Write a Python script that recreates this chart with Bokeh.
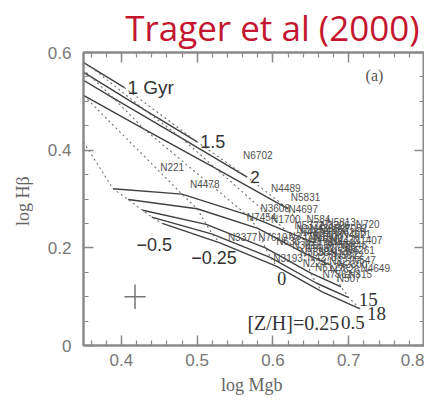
from bokeh.plotting import figure
from bokeh.models import (LinearAxis, FixedTicker, Label, Range1d,
                          CustomJSTickFormatter, ColumnDataSource)
from bokeh.core.properties import value
from bokeh.embed import file_html
from bokeh.resources import INLINE

# --- Worthey-type model grid: rows = age (Gyr), columns = [Z/H] ---
ages = [1, 1.5, 2, 3, 5, 8, 12, 15, 18]
metallicities = [-0.5, -0.25, 0.0, 0.25, 0.5]
model_mgb = [
    [0.240, 0.280, 0.320, 0.360, 0.404],
    [0.250, 0.300, 0.360, 0.430, 0.500],
    [0.260, 0.310, 0.390, 0.480, 0.566],
    [0.290, 0.350, 0.430, 0.525, 0.620],
    [0.389, 0.480, 0.565, 0.620, 0.655],
    [0.409, 0.500, 0.580, 0.640, 0.675],
    [0.428, 0.512, 0.590, 0.650, 0.690],
    [0.440, 0.520, 0.597, 0.657, 0.700],
    [0.454, 0.530, 0.605, 0.665, 0.715],
]
model_hb = [
    [0.684, 0.646, 0.608, 0.570, 0.528],
    [0.654, 0.606, 0.550, 0.483, 0.417],
    [0.626, 0.580, 0.506, 0.424, 0.345],
    [0.564, 0.512, 0.443, 0.362, 0.280],
    [0.321, 0.310, 0.268, 0.232, 0.210],
    [0.299, 0.280, 0.240, 0.190, 0.165],
    [0.277, 0.248, 0.200, 0.148, 0.120],
    [0.263, 0.228, 0.180, 0.128, 0.098],
    [0.250, 0.210, 0.162, 0.110, 0.075],
]

# --- galaxy sample ---
galaxy_names = [
    "N6702", "N221", "N4478", "N4489", "N5831", "N3608", "N4697", "N1700",
    "N584", "N5813", "N720", "N7052", "N4552", "N4374", "N3379", "N1600",
    "N4472", "N5846", "N4261", "N2778", "N3818", "N636", "N7785", "N1453",
    "N5638", "N5812", "N4278", "N547", "N821", "N3377", "N7619", "N2300",
    "N6127", "N7626", "N4649", "N224", "N315", "N507", "N7562", "N1407",
    "N4621", "N5322", "N4365", "N3193", "N7454", "N4406", "N4486", "N5982",
    "N7626B", "N3226", "N4636", "N1052", "N3115",
]
galaxy_mgb = [
    0.580, 0.467, 0.510, 0.617, 0.643, 0.603, 0.640, 0.617,
    0.660, 0.690, 0.725, 0.705, 0.680, 0.655, 0.640, 0.673,
    0.695, 0.705, 0.715, 0.660, 0.645, 0.620, 0.690, 0.680,
    0.655, 0.700, 0.665, 0.720, 0.690, 0.560, 0.600, 0.705,
    0.675, 0.695, 0.735, 0.655, 0.715, 0.700, 0.685, 0.725,
    0.710, 0.648, 0.668, 0.620, 0.585, 0.672, 0.688, 0.662,
    0.700, 0.682, 0.668, 0.695, 0.650,
]
galaxy_hb = [
    0.390, 0.364, 0.330, 0.322, 0.303, 0.281, 0.278, 0.258,
    0.258, 0.252, 0.248, 0.240, 0.235, 0.232, 0.223, 0.222,
    0.215, 0.205, 0.195, 0.210, 0.205, 0.212, 0.200, 0.192,
    0.190, 0.185, 0.180, 0.175, 0.172, 0.222, 0.222, 0.165,
    0.160, 0.155, 0.158, 0.168, 0.145, 0.138, 0.145, 0.215,
    0.228, 0.245, 0.240, 0.178, 0.262, 0.226, 0.208, 0.198,
    0.232, 0.246, 0.218, 0.188, 0.238,
]

# typical error bar
err_mgb, err_hb = 0.418, 0.100
err_dx, err_dy = 0.014, 0.025

x_major = [0.4, 0.5, 0.6, 0.7, 0.8]
y_major = [0.0, 0.2, 0.4, 0.6]

INK = "#404040"
AXIS = "#8a8a8a"
LABEL_INK = "#333333"

p = figure(width=424, height=401, x_range=Range1d(0.35, 0.8), y_range=Range1d(0, 0.6),
           output_backend="svg", toolbar_location=None,
           min_border_left=83, min_border_right=0, min_border_top=50, min_border_bottom=56)
p.grid.visible = False
p.background_fill_color = "white"
p.border_fill_color = "white"
p.outline_line_color = AXIS
p.outline_line_width = 2

p.title.text = "Trager et al (2000)"
p.title.align = "right"
p.title.text_font = "Open Sans"
p.title.text_font_size = "35px"
p.title.text_font_style = "normal"
p.title.text_color = "#c4162e"
p.title.standoff = 3
p.title.offset = 5

# constant-age tracks (solid)
p.multi_line(xs=model_mgb, ys=model_hb, line_color=INK, line_width=1.4)
# constant-metallicity tracks (dotted)
z_xs = [[row[j] for row in model_mgb] for j in range(len(metallicities))]
z_ys = [[row[j] for row in model_hb] for j in range(len(metallicities))]
p.multi_line(xs=z_xs, ys=z_ys, line_color="#707070", line_width=1.1, line_dash="2 3")

# galaxy labels
gsrc = ColumnDataSource(dict(x=galaxy_mgb, y=galaxy_hb, name=galaxy_names))
p.text(x="x", y="y", text="name", source=gsrc, text_font=value("Liberation Sans"),
       text_font_size="10px", text_color="#505050",
       text_align="center", text_baseline="middle")

# error cross
p.segment(x0=[err_mgb - err_dx], y0=[err_hb], x1=[err_mgb + err_dx], y1=[err_hb],
          line_color="#777777", line_width=1.5)
p.segment(x0=[err_mgb], y0=[err_hb - err_dy], x1=[err_mgb], y1=[err_hb + err_dy],
          line_color="#777777", line_width=1.5)

# age labels at the metal-rich end of each track
i1, i15, i2, i15g, i18 = 0, 1, 2, 7, 8
for txt, i, size in [("1 Gyr", i1, "19px"), ("1.5", i15, "18px"), ("2", i2, "17px")]:
    p.add_layout(Label(x=model_mgb[i][-1], y=model_hb[i][-1], text=txt, x_offset=3,
                       text_baseline="middle", text_font="Liberation Sans",
                       text_font_size=size, text_color=LABEL_INK))
for txt, i, dy in [("15", i15g, -2), ("18", i18, -5)]:
    p.add_layout(Label(x=model_mgb[i][-1], y=model_hb[i][-1], text=txt,
                       x_offset=10 if txt == "15" else 7,
                       y_offset=dy, text_baseline="middle", text_font="Liberation Serif",
                       text_font_size="19px", text_color=LABEL_INK))

# [Z/H] labels at the oldest-age end
zlbl = [("\u22120.5", 0, "Liberation Sans", -8, -21),
        ("\u22120.25", 1, "Liberation Sans", -6, -15),
        ("0", 2, "Liberation Serif", 5, -12)]
for txt, j, fnt, dx, dy in zlbl:
    p.add_layout(Label(x=model_mgb[i18][j], y=model_hb[i18][j], text=txt, x_offset=dx,
                       y_offset=dy, text_align="center", text_baseline="middle",
                       text_font=fnt, text_font_size="18px", text_color=LABEL_INK))
p.add_layout(Label(x=model_mgb[i18][3], y=model_hb[i18][3], text="[Z/H]=0.25",
                   x_offset=17, y_offset=-31, text_align="right", text_baseline="middle",
                   text_font="Liberation Serif", text_font_size="20px", text_color=LABEL_INK))
p.add_layout(Label(x=model_mgb[i18][4], y=model_hb[i18][4], text="0.5",
                   x_offset=-19, y_offset=-14, text_align="left", text_baseline="middle",
                   text_font="Liberation Serif", text_font_size="19px", text_color=LABEL_INK))

p.add_layout(Label(x=0.734, y=0.553, text="(a)", text_align="center", text_baseline="middle",
                   text_font="Liberation Serif", text_font_size="16px", text_color="#555555"))

# axes and ticks
x_minor = [round(0.36 + 0.02 * k, 2) for k in range(23)]
y_minor = [round(0.05 * k, 2) for k in range(13)]
fmt = CustomJSTickFormatter(code="return tick.toFixed(1).replace(/\\.0$/, '');")
blank = CustomJSTickFormatter(code="return '';")


def style_axis(ax, ticks, minor, labels=True):
    ax.ticker = FixedTicker(ticks=ticks, minor_ticks=minor)
    ax.axis_line_color = AXIS
    ax.axis_line_width = 2
    ax.major_tick_line_color = AXIS
    ax.minor_tick_line_color = AXIS
    ax.major_tick_line_width = 1.5
    ax.minor_tick_line_width = 1.2
    ax.major_tick_in = 10
    ax.major_tick_out = 0
    ax.minor_tick_in = 5
    ax.minor_tick_out = 0
    if labels:
        ax.formatter = fmt
        ax.major_label_text_font = "Liberation Sans"
        ax.major_label_text_font_size = "17px"
        ax.major_label_text_color = "#777777"
    else:
        ax.formatter = blank
        ax.major_label_text_color = None
        ax.major_label_standoff = 0
        ax.axis_label_standoff = 0


style_axis(p.xaxis[0], x_major, x_minor)
style_axis(p.yaxis[0], y_major, y_minor)
p.xaxis[0].major_label_standoff = 8
p.yaxis[0].major_label_standoff = 12
p.xaxis[0].axis_label = "log  Mgb"
p.yaxis[0].axis_label = "log  H\u03b2"
for ax in (p.xaxis[0], p.yaxis[0]):
    ax.axis_label_text_font = "Liberation Serif"
    ax.axis_label_text_font_size = "18px"
    ax.axis_label_text_font_style = "normal"
    ax.axis_label_text_color = "#666666"
p.xaxis[0].axis_label_standoff = 6
p.yaxis[0].axis_label_standoff = 12

top = LinearAxis()
style_axis(top, x_major, x_minor, labels=False)
p.add_layout(top, "above")
right = LinearAxis()
style_axis(right, y_major, y_minor, labels=False)
p.add_layout(right, "right")

open("out.html", "w").write(file_html(p, INLINE))
